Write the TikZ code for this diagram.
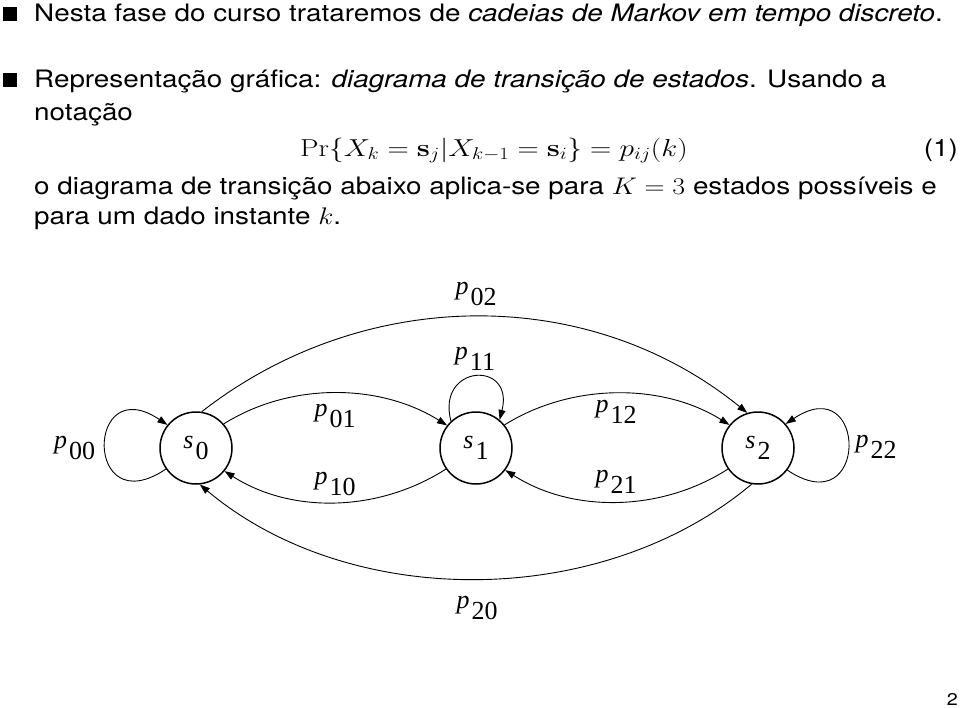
\RequirePackage{fix-cm}
\documentclass[tikz,border=0pt]{standalone}
\usepackage[no-math]{fontspec}
\setmainfont[FakeStretch=1.16]{TeX Gyre Heros}
\newfontfamily\tms{Liberation Serif}
\usetikzlibrary{arrows.meta}
\newcommand{\plab}[2]{{\tms\itshape #1}\kern2pt\raisebox{-11pt}{\tms #2}}
\newcommand{\wmath}[1]{\scalebox{1.16}[1]{\fontsize{24}{29}\selectfont$#1$}}
\begin{document}
\begin{tikzpicture}[x=1pt,y=-1pt,
  txt/.style={anchor=base west, inner sep=0, font=\fontsize{24}{29}\selectfont},
  bul/.style={fill=black, minimum size=14pt, inner sep=0, outer sep=0},
  eqn/.style={anchor=base west, inner sep=0, font=\fontsize{24.5}{29}\selectfont},
  state/.style={circle, draw, line width=1.5pt, minimum size=72pt, inner sep=0, font=\fontsize{26}{30}\selectfont},
  edge/.style={line width=0.9pt, -{Triangle[length=10pt,width=7pt]}},
  lab/.style={inner sep=0, font=\fontsize{26}{30}\selectfont}]
\useasboundingbox (0,0) rectangle (960,707);

% text
\node[bul] (b1) at (10,14) {};
\node[txt] (t1) at (34,21) {Nesta fase do curso trataremos de \textit{cadeias de Markov em tempo discreto}.};
\node[bul] (b2) at (10,80) {};
\node[txt] (t2) at (34,87) {Representação gráfica: \textit{diagrama de transição de estados}. Usando a};
\node[txt] (t3) at (34,120) {notação};
\node[eqn] (eq) at (300,156) {\scalebox{1.2}[1]{$\mathrm{Pr}\{X_k=\mathbf{s}_j|X_{k-1}=\mathbf{s}_i\}=p_{ij}(k)$}};
\node[txt, anchor=base east] (eqnum) at (958,156) {(1)};
\node[txt] (t4) at (34,194) {o diagrama de transição abaixo aplica-se para \wmath{K=3} estados possíveis e};
\node[txt] (t5) at (34,224) {para um dado instante \wmath{k}.};

% states
\node[state] (s0) at (196,448) {\plab{s}{0}};
\node[state] (s1) at (476,448) {\plab{s}{1}};
\node[state] (s2) at (758,448) {\plab{s}{2}};

% edges
\draw[edge] (s0.41) .. controls +(67,-42) and +(-67,-42) .. (s1.142);
\draw[edge] (s1.-145) .. controls +(-67,43) and +(67,43) .. (s0.-39);
\draw[edge] (s1.39) .. controls +(67,-42) and +(-67,-42) .. (s2.141);
\draw[edge] (s2.-145) .. controls +(-67,43) and +(67,43) .. (s1.-37);
\draw[edge] (s0.81) .. controls +(160,-125) and +(-160,-130) .. (s2.107);
\draw[edge] (s2.-100) .. controls +(-150,126) and +(150,126) .. (s0.-84);
% loops
\draw[edge] (s0.-145) .. controls +(-82,55) and +(-82,-55) .. (s0.141);
\draw[edge] (s2.-37) .. controls +(82,55) and +(82,-55) .. (s2.41);
\draw[edge] (s1.133) .. controls +(-15,-57) and +(15,-60) .. (s1.50);

% labels
\node[lab] (l00) at (74.5,447.5) {\plab{p}{00}};
\node[lab] (l02) at (476,294) {\plab{p}{02}};
\node[lab] (l11) at (475,359) {\plab{p}{11}};
\node[lab] (l01) at (335,416) {\plab{p}{01}};
\node[lab] (l10) at (335,484) {\plab{p}{10}};
\node[lab] (l12) at (616,412) {\plab{p}{12}};
\node[lab] (l21) at (616,482) {\plab{p}{21}};
\node[lab] (l22) at (876,447) {\plab{p}{22}};
\node[lab] (l20) at (477,608) {\plab{p}{20}};

\node[anchor=base east, inner sep=0, font=\fontsize{17}{20}\selectfont] (pg) at (958,705) {2};
\end{tikzpicture}
\end{document}
